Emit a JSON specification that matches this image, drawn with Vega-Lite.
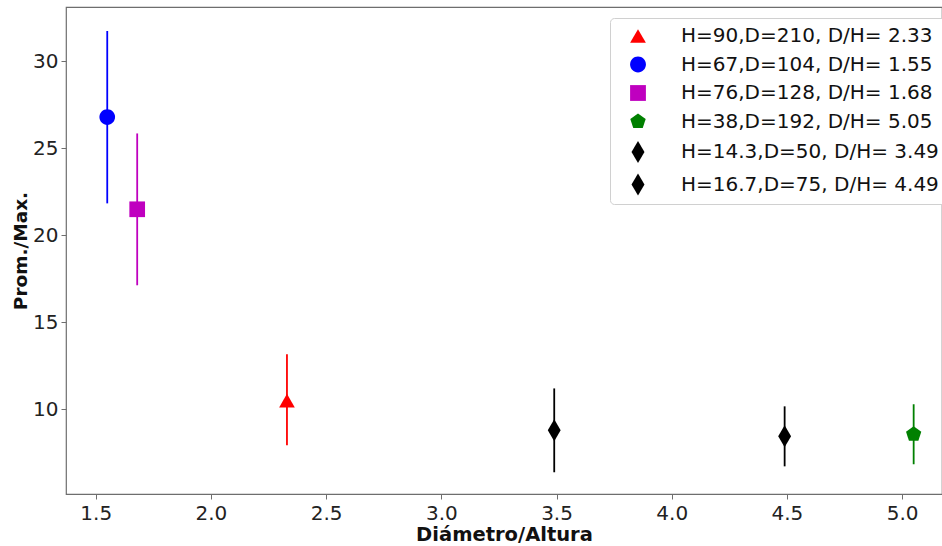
{
  "$schema": "https://vega.github.io/schema/vega-lite/v6.json",
  "width": 876,
  "height": 487,
  "autosize": {"type": "none"},
  "padding": {"left": 66, "top": 7, "right": 0, "bottom": 52},
  "background": "white",
  "config": {
    "font": "DejaVu Sans",
    "view": {"stroke": "#6e6e6e", "strokeWidth": 1.2},
    "axis": {
      "grid": false,
      "domain": false,
      "tickColor": "#6e6e6e",
      "tickSize": 5,
      "labelFont": "DejaVu Sans",
      "labelFontSize": 20,
      "labelColor": "#222222",
      "titleFont": "DejaVu Sans",
      "titleFontWeight": "bold",
      "titleColor": "#111111"
    }
  },
  "data": {
    "values": [
      {"serie": "H=90,D=210, D/H= 2.33", "dh": 2.33, "val": 10.5, "lo": 7.93, "hi": 13.16},
      {"serie": "H=67,D=104, D/H= 1.55", "dh": 1.55, "val": 26.8, "lo": 21.84, "hi": 31.75},
      {"serie": "H=76,D=128, D/H= 1.68", "dh": 1.68, "val": 21.5, "lo": 17.13, "hi": 25.86},
      {"serie": "H=38,D=192, D/H= 5.05", "dh": 5.05, "val": 8.56, "lo": 6.84, "hi": 10.29},
      {"serie": "H=14.3,D=50, D/H= 3.49", "dh": 3.49, "val": 8.79, "lo": 6.38, "hi": 11.2},
      {"serie": "H=16.7,D=75, D/H= 4.49", "dh": 4.49, "val": 8.45, "lo": 6.72, "hi": 10.17}
    ]
  },
  "encoding": {
    "x": {
      "field": "dh", "type": "quantitative",
      "scale": {"domain": [1.371, 5.173], "nice": false, "zero": false},
      "axis": {"values": [1.5, 2.0, 2.5, 3.0, 3.5, 4.0, 4.5, 5.0], "format": ".1f", "title": "Diámetro/Altura", "titleFontSize": 19.5, "labelPadding": 4, "titlePadding": 2}
    },
    "color": {
      "field": "serie", "type": "nominal",
      "scale": {
        "domain": ["H=90,D=210, D/H= 2.33", "H=67,D=104, D/H= 1.55", "H=76,D=128, D/H= 1.68", "H=38,D=192, D/H= 5.05", "H=14.3,D=50, D/H= 3.49", "H=16.7,D=75, D/H= 4.49"],
        "range": ["#ff0000", "#0000ff", "#bf00bf", "#008000", "#000000", "#000000"]
      },
      "legend": {
        "title": null,
        "orient": "none",
        "legendX": 544,
        "legendY": 11,
        "padding": 8,
        "fillColor": "white",
        "strokeColor": "#d0d0d0",
        "cornerRadius": 4,
        "labelFont": "DejaVu Sans",
        "labelFontSize": 20,
        "labelColor": "#111111",
        "labelOffset": 33,
        "rowPadding": 8.5,
        "symbolSize": 250,
        "symbolStrokeWidth": 0,
        "symbolOffset": 10,
        "labelLimit": 400
      }
    }
  },
  "layer": [
    {
      "mark": {"type": "rule", "strokeWidth": 1.8},
      "encoding": {
        "y": {"field": "lo", "type": "quantitative"},
        "y2": {"field": "hi"}
      }
    },
    {
      "mark": {"type": "point", "filled": true, "opacity": 1, "size": 246},
      "encoding": {
        "y": {
          "field": "val", "type": "quantitative",
          "scale": {"domain": [5.13, 33.13], "nice": false, "zero": false},
          "axis": {"values": [10, 15, 20, 25, 30], "title": "Prom./Max.", "titleFontSize": 18.5, "labelPadding": 3, "titlePadding": 2}
        },
        "shape": {
          "field": "serie", "type": "nominal",
          "scale": {
            "domain": ["H=90,D=210, D/H= 2.33", "H=67,D=104, D/H= 1.55", "H=76,D=128, D/H= 1.68", "H=38,D=192, D/H= 5.05", "H=14.3,D=50, D/H= 3.49", "H=16.7,D=75, D/H= 4.49"],
            "range": ["triangle-up", "M1,0A1,1,0,1,1,-1,0A1,1,0,1,1,1,0Z", "square", "M0,-1.024L0.974,-0.316L0.602,0.828L-0.602,0.828L-0.974,-0.316Z", "M0,-1.4L0.82,0L0,1.4L-0.82,0Z", "M0,-1.4L0.82,0L0,1.4L-0.82,0Z"]
          }
        }
      }
    }
  ]
}
